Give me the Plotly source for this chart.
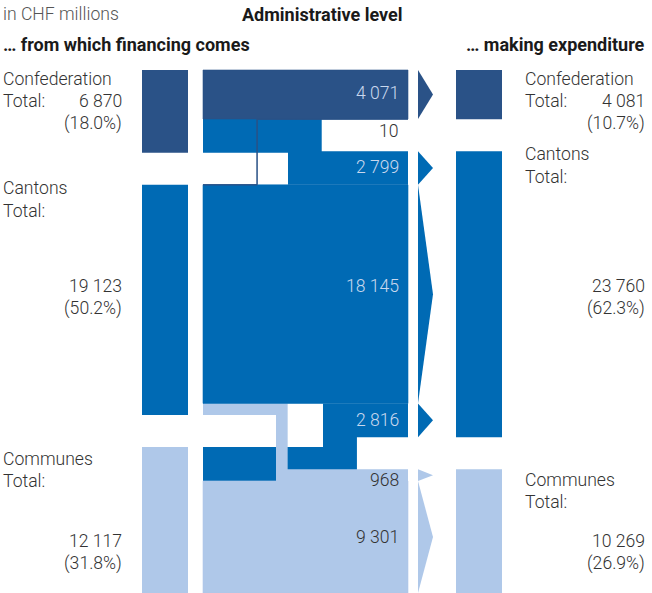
import plotly.graph_objects as go

# ---------------- data ----------------
levels = ["Confederation", "Cantons", "Communes"]
financing = [6870, 19123, 12117]
financing_pct = ["18.0%", "50.2%", "31.8%"]
expenditure = [4081, 23760, 10269]
expenditure_pct = ["10.7%", "62.3%", "26.9%"]
# flows[source level][destination level]
flow_from_confederation = [4071, 2799, 0]
flow_from_cantons = [10, 18145, 968]
flow_from_communes = [0, 2816, 9301]
flows = [flow_from_confederation, flow_from_cantons, flow_from_communes]

# ---------------- layout / style ----------------
W, H = 652, 593
TOP, BOTTOM, GAP = 70, 593, 32          # pixel layout of the bar stack
colors = ["#2a5287", "#006ab4", "#afc8e9"]
LEFT_BAR = (142, 188)
MID = (203, 408)
ARROW = (418, 433)
RIGHT_BAR = (456, 502)
TURN_X = {(0, 1): 288, (1, 0): 257, (1, 2): 276, (2, 1): 323}
FONT = "Roboto"
TXT = "#333333"
LIGHT_TXT = "#c9d8ee"
SIZE = 17.6
HEAD_SIZE = 18

k = (BOTTOM - TOP - 2 * GAP) / sum(financing)   # px per CHF million
gap_v = GAP / k


def yv(py):
    """pixel row -> y value (for layout text positions)"""
    return (py - TOP) / k


def fmt(v):
    return f"{v:,}".replace(",", " ")


n = len(levels)
src_top = [sum(financing[:i]) + i * gap_v for i in range(n)]
dst_top = [sum(expenditure[:j]) + j * gap_v for j in range(n)]

# band positions for each flow
src_band, dst_band = {}, {}
for i in range(n):
    off = src_top[i]
    for j in range(n):
        v = flows[i][j]
        if v > 0:
            src_band[(i, j)] = (off, off + v)
            off += v
for j in range(n):
    off = dst_top[j]
    for i in range(n):
        v = flows[i][j]
        if v > 0:
            dst_band[(i, j)] = (off, off + v)
            off += v

fig = go.Figure()


def poly(xs, ys, color, line_w=0):
    fig.add_trace(go.Scatter(
        x=xs, y=ys, mode="lines", fill="toself", fillcolor=color,
        line=dict(width=line_w, color=color), hoverinfo="skip", showlegend=False))


# side bars
for i in range(n):
    y0, y1 = src_top[i], src_top[i] + financing[i]
    x0, x1 = LEFT_BAR
    poly([x0, x1, x1, x0, x0], [y0, y0, y1, y1, y0], colors[i])
for j in range(n):
    y0, y1 = dst_top[j], dst_top[j] + expenditure[j]
    x0, x1 = RIGHT_BAR
    poly([x0, x1, x1, x0, x0], [y0, y0, y1, y1, y0], colors[j])

# flows: off-diagonal first, then diagonal (covers seams), tiny flow last
order = [(0, 1), (2, 1), (1, 2), (0, 0), (1, 1), (2, 2), (1, 0)]
xa, xb = MID
for (i, j) in order:
    v = flows[i][j]
    if v <= 0:
        continue
    s0, s1 = src_band[(i, j)]
    d0, d1 = dst_band[(i, j)]
    col = colors[j]
    if abs(s0 - d0) < 1e-6:
        poly([xa, xb, xb, xa, xa], [s0, s0, s1, s1, s0], col, 0.6)
        continue
    xt = TURN_X[(i, j)]
    w = v * k
    if d0 > s0:
        xs = [xa, xt + w, xt + w, xb, xb, xt, xt, xa, xa]
        ys = [s0, s0, d0, d0, d1, d1, s1, s1, s0]
    else:
        xs = [xa, xt, xt, xb, xb, xt + w, xt + w, xa, xa]
        ys = [s0, s0, d0, d0, d1, d1, s1, s1, s0]
    poly(xs, ys, col, line_w=1 if w < 2 else 0)

# arrows
for (i, j), (d0, d1) in dst_band.items():
    if (d1 - d0) * k < 2:
        continue
    a0, a1 = ARROW
    poly([a0, a1, a0, a0], [d0, (d0 + d1) / 2, d1, d0], colors[j])

annotations = []


def txt(x, py, text, anchor="left", color=TXT, weight=300, size=SIZE):
    annotations.append(dict(
        x=x, y=yv(py), xref="x", yref="y", text=text, showarrow=False,
        xanchor=anchor, yanchor="middle", borderpad=0, borderwidth=0,
        font=dict(family=FONT, size=size, color=color, weight=weight)))


# headers
txt(3, 14, "in CHF millions", color="#555555")
txt(322, 14, "Administrative level", anchor="center", color="#1a1a1a", weight=700, size=HEAD_SIZE)
txt(3, 44, "… from which financing comes", color="#1a1a1a", weight=700, size=HEAD_SIZE)
txt(645, 44, "… making expenditure", anchor="right", color="#1a1a1a", weight=700, size=HEAD_SIZE)

# side labels (pixel rows: name, total, value, pct)
left_rows = [(79, 101, 101, 123), (188, 211, 286, 308), (459, 481, 541, 563)]
right_rows = [(79, 101, 101, 123), (154, 177, 286, 308), (480, 502, 541, 563)]
for i in range(n):
    r = left_rows[i]
    txt(3, r[0], levels[i])
    txt(3, r[1], "Total:")
    txt(122, r[2], fmt(financing[i]), anchor="right")
    txt(122, r[3], f"({financing_pct[i]})", anchor="right")
for j in range(n):
    r = right_rows[j]
    txt(525, r[0], levels[j])
    txt(525, r[1], "Total:")
    txt(645, r[2], fmt(expenditure[j]), anchor="right")
    txt(645, r[3], f"({expenditure_pct[j]})", anchor="right")

# flow labels
flow_label_rows = {(0, 0): 93, (1, 0): 131, (0, 1): 167, (1, 1): 286,
                   (2, 1): 420, (1, 2): 480, (2, 2): 537}
flow_label_colors = {(0, 0): LIGHT_TXT, (1, 0): TXT, (0, 1): LIGHT_TXT,
                     (1, 1): LIGHT_TXT, (2, 1): LIGHT_TXT, (1, 2): TXT, (2, 2): TXT}
for key, py in flow_label_rows.items():
    i, j = key
    txt(399, py, fmt(flows[i][j]), anchor="right", color=flow_label_colors[key])

fig.update_layout(
    width=W, height=H, margin=dict(l=0, r=0, t=0, b=0),
    paper_bgcolor="white", plot_bgcolor="white",
    xaxis=dict(range=[0, W], visible=False, fixedrange=True),
    yaxis=dict(range=[yv(H), yv(0)], visible=False, fixedrange=True),
    annotations=annotations, showlegend=False,
)
fig.write_html(
    "out.html",
    config={"displayModeBar": False},
    post_script="document.body.style.margin='0';document.body.style.overflow='hidden';",
)
